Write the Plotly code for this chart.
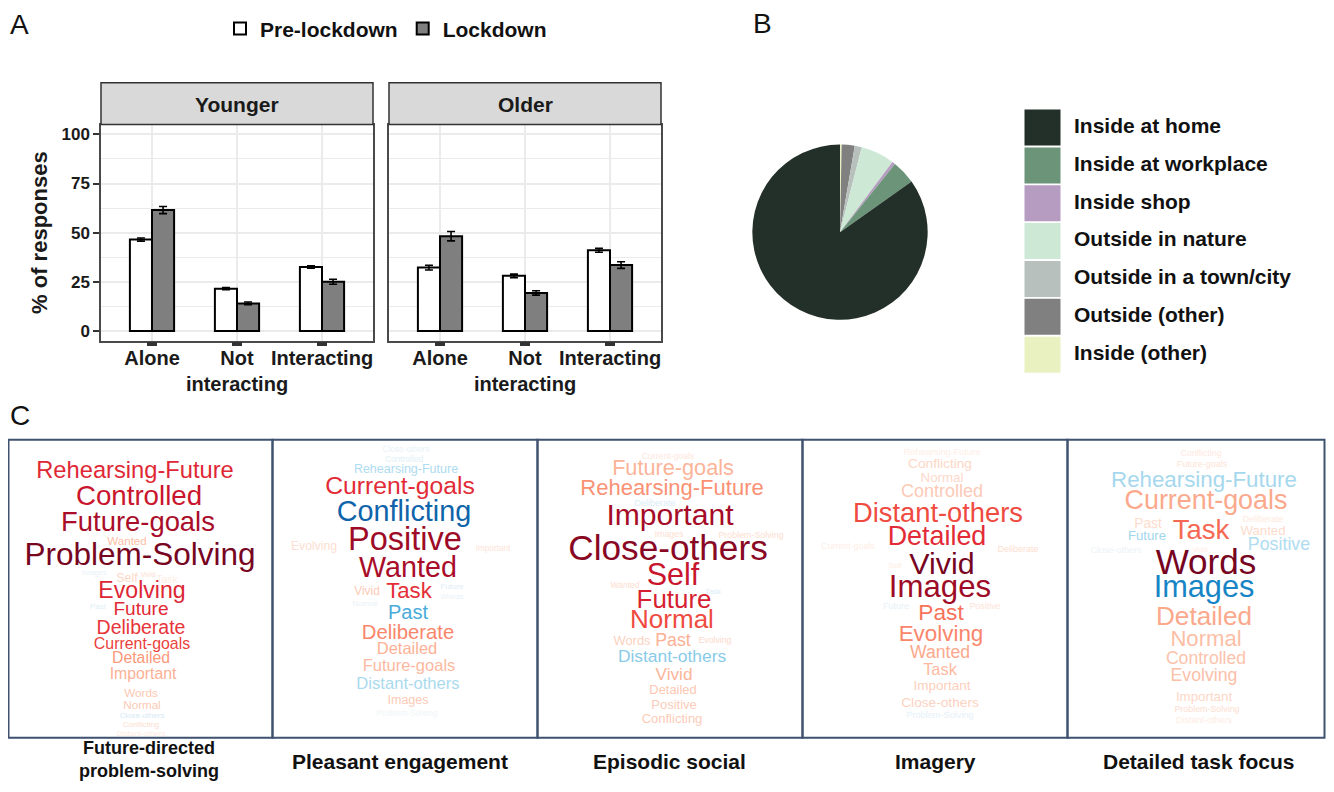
import plotly.graph_objects as go
from plotly.colors import sample_colorscale

# page is 1334x792; the html body adds an 8px margin, so the figure is drawn 8px in
OFF = 8
FW, FH = 1318, 776
FONT = "Liberation Sans, Arial, sans-serif"

# ---------------- Panel A data ----------------
categories = ["Alone", "Not interacting", "Interacting"]
cat_labels = ["Alone", "Not<br>interacting", "Interacting"]
younger_pre = [46.5, 21.5, 32.5]
younger_pre_se = [0.8, 0.5, 0.6]
younger_lock = [61.5, 14.0, 25.0]
younger_lock_se = [1.8, 0.7, 1.3]
older_pre = [32.2, 28.0, 41.0]
older_pre_se = [1.2, 0.9, 1.0]
older_lock = [48.2, 19.3, 33.5]
older_lock_se = [2.4, 1.1, 1.7]
facets = ["Younger", "Older"]
y_ticks = [0, 25, 50, 75, 100]

# ---------------- Panel B data ----------------
locations = ["Inside at home", "Inside at workplace", "Inside shop", "Outside in nature",
             "Outside in a town/city", "Outside (other)", "Inside (other)"]
location_pct = [84.8, 4.4, 0.6, 6.2, 1.3, 2.4, 0.3]
location_colors = ["#233029", "#6b9479", "#b59cc0", "#cde8d5", "#b7c0bd", "#808080", "#e9f1c1"]

# ---------------- Panel C data (words and signed loadings) ----------------
cloud_titles = ["Future-directed<br>problem-solving", "Pleasant engagement", "Episodic social",
                "Imagery", "Detailed task focus"]

words1 = ["Rehearsing-Future", "Controlled", "Future-goals", "Wanted", "Problem-Solving", "Images",
          "Self", "Vivid", "Task", "Evolving", "Past", "Future", "Deliberate", "Current-goals",
          "Detailed", "Important", "Words", "Normal", "Close-others", "Conflicting", "Distant-others"]
load1 = [0.67, 0.76, 0.84, 0.25, 0.98, -0.05, 0.15, 0.12, 0.06, 0.68, -0.08, 0.66, 0.63, 0.60,
         0.38, 0.30, 0.21, 0.20, -0.12, 0.12, 0.06]

words2 = ["Close-others", "Controlled", "Rehearsing-Future", "Current-goals", "Conflicting", "Evolving",
          "Positive", "Important", "Wanted", "Vivid", "Task", "Future", "Words", "Normal", "Past",
          "Deliberate", "Detailed", "Future-goals", "Distant-others", "Images", "Problem-Solving"]
load2 = [-0.05, -0.07, -0.24, 0.66, -0.85, 0.12, 0.87, 0.10, 0.84, 0.20, 0.65, -0.08, -0.05, -0.05,
         -0.47, 0.43, 0.30, 0.27, -0.25, 0.20, -0.03]

words3 = ["Current-goals", "Future-goals", "Rehearsing-Future", "Deliberate", "Important", "Images",
          "Problem-Solving", "Close-others", "Wanted", "Self", "Task", "Future", "Normal", "Words",
          "Past", "Evolving", "Distant-others", "Vivid", "Detailed", "Positive", "Conflicting"]
load3 = [0.08, 0.29, 0.40, -0.10, 0.85, 0.12, 0.12, 0.93, 0.12, 0.76, -0.10, 0.71, 0.57, 0.17,
         0.30, 0.14, -0.32, 0.29, 0.21, 0.19, 0.19]

words4 = ["Rehearsing-Future", "Conflicting", "Normal", "Controlled", "Distant-others", "Detailed",
          "Current-goals", "Deliberate", "Vivid", "Self", "Images", "Future", "Positive", "Past",
          "Evolving", "Wanted", "Task", "Important", "Close-others", "Problem-Solving"]
load4 = [0.05, 0.15, 0.14, 0.20, 0.57, 0.66, 0.05, 0.12, 0.98, 0.06, 0.87, -0.06, 0.10, 0.48,
         0.43, 0.33, 0.27, 0.18, 0.17, -0.06]

words5 = ["Conflicting", "Future-goals", "Rehearsing-Future", "Current-goals", "Past", "Deliberate",
          "Task", "Wanted", "Future", "Positive", "Close-others", "Vivid", "Words", "Images",
          "Detailed", "Normal", "Controlled", "Evolving", "Important", "Problem-Solving", "Distant-others"]
load5 = [0.07, 0.10, -0.26, 0.33, 0.13, 0.07, 0.50, 0.13, -0.27, -0.23, -0.04, 0.06, 0.98, -0.68,
         0.33, 0.25, 0.23, 0.24, 0.15, 0.12, 0.06]

# ---------------- Word-cloud layout (page-pixel centres and widths) ----------------
x1 = [135, 139, 138, 127, 140, 94, 127, 148, 167, 142, 98, 141, 141, 142, 141, 143, 141, 142, 142, 141, 141]
y1 = [471, 497, 523, 541, 556, 572, 578, 574, 580, 591, 606, 610, 629, 644, 659, 675, 694, 706, 716, 725, 734]
w1 = [222, 142, 173, 45, 260, 28, 24, 17, 25, 98, 18, 62, 100, 108, 65, 75, 38, 42, 50, 41, 55]

x2 = [406, 404, 406, 400, 404, 314, 405, 493, 408, 367, 409, 452, 452, 365, 408, 408, 407, 409, 408, 408, 407]
y2 = [449, 459, 469, 487, 513, 546, 541, 548, 569, 591, 592, 586, 596, 603, 613, 633, 649, 666, 684, 701, 714]
w2 = [53, 43, 117, 168, 151, 52, 128, 39, 111, 29, 54, 26, 26, 28, 45, 104, 68, 104, 116, 46, 68]

x3 = [668, 673, 672, 655, 670, 669, 751, 668, 625, 673, 713, 674, 672, 632, 673, 715, 672, 674, 673, 674, 672]
y3 = [456, 468, 488, 503, 516, 534, 535, 550, 585, 577, 591, 601, 621, 641, 641, 640, 657, 675, 690, 705, 719]
w3 = [59, 137, 206, 46, 143, 32, 73, 224, 33, 59, 19, 84, 94, 42, 40, 37, 122, 42, 53, 51, 68]

x4 = [942, 940, 942, 942, 938, 937, 848, 1018, 942, 895, 940, 896, 985, 941, 941, 940, 940, 942, 940, 940]
y4 = [451, 463, 477, 491, 514, 537, 546, 549, 566, 565, 588, 606, 606, 614, 635, 653, 670, 686, 703, 715]
w4 = [86, 72, 48, 92, 191, 111, 60, 46, 74, 15, 115, 29, 35, 51, 95, 68, 40, 64, 87, 76]

x5 = [1201, 1202, 1204, 1206, 1148, 1263, 1201, 1263, 1147, 1279, 1116, 1200, 1206, 1204, 1204, 1206,
      1206, 1204, 1204, 1207, 1204]
y5 = [453, 464, 480, 501, 524, 519, 531, 531, 536, 545, 550, 549, 564, 589, 618, 640, 659, 676, 697, 709, 720]
w5 = [46, 57, 209, 183, 31, 46, 67, 51, 43, 70, 57, 17, 114, 113, 108, 80, 90, 75, 63, 73, 63]

# ---------------- helpers ----------------
ARIAL = {
    'C': 722, 'D': 722, 'E': 667, 'F': 611, 'I': 278, 'N': 722, 'P': 667, 'R': 722, 'S': 667,
    'T': 611, 'V': 667, 'W': 944,
    'a': 556, 'b': 556, 'c': 500, 'd': 556, 'e': 556, 'f': 278, 'g': 556, 'h': 556, 'i': 222,
    'j': 222, 'k': 500, 'l': 222, 'm': 833, 'n': 556, 'o': 556, 'p': 556, 'q': 556, 'r': 333,
    's': 500, 't': 278, 'u': 556, 'v': 500, 'w': 722, 'x': 500, 'y': 500, 'z': 500, '-': 333,
}


def fit_size(word, width_px):
    em = sum(ARIAL.get(ch, 556) for ch in word) / 1000.0
    return round(width_px / em * 0.89, 1)


stops = [
    (-1.00, (10, 70, 140)), (-0.85, (15, 100, 170)), (-0.70, (20, 130, 195)), (-0.55, (40, 155, 210)),
    (-0.40, (100, 185, 225)), (-0.25, (170, 218, 238)), (-0.12, (212, 234, 245)), (-0.04, (236, 243, 248)),
    (0.00, (250, 250, 250)), (0.05, (254, 238, 230)), (0.12, (253, 222, 208)), (0.20, (252, 202, 182)),
    (0.28, (252, 183, 156)), (0.36, (251, 160, 130)), (0.45, (249, 127, 100)), (0.55, (242, 82, 66)),
    (0.65, (228, 45, 55)), (0.75, (205, 22, 45)), (0.85, (165, 12, 40)), (1.00, (112, 4, 30)),
]
word_scale = [[(v + 1) / 2, "rgb(%d,%d,%d)" % c] for v, c in stops]


def loading_colors(loads):
    return sample_colorscale(word_scale, [(v + 1) / 2 for v in loads])


def px_x(p):
    return (p - OFF) / FW


def px_y(p):
    return 1 - (p - OFF) / FH


fig = go.Figure()

# ---------------- Panel A: bars ----------------
series = [
    (younger_pre, younger_pre_se, younger_lock, younger_lock_se, "x", "y", True),
    (older_pre, older_pre_se, older_lock, older_lock_se, "x2", "y2", False),
]
for pre, pre_se, lock, lock_se, xa, ya, show in series:
    fig.add_trace(go.Bar(
        x=categories, y=pre, name="Pre-lockdown", legendgroup="pre", showlegend=show,
        marker=dict(color="white", line=dict(color="black", width=2)),
        error_y=dict(type="data", array=pre_se, color="black", thickness=1.6, width=4),
        xaxis=xa, yaxis=ya, hoverinfo="skip"))
    fig.add_trace(go.Bar(
        x=categories, y=lock, name="Lockdown", legendgroup="lock", showlegend=show,
        marker=dict(color="#7f7f7f", line=dict(color="black", width=2)),
        error_y=dict(type="data", array=lock_se, color="black", thickness=1.6, width=4),
        xaxis=xa, yaxis=ya, hoverinfo="skip"))

grid_c = "#ebebeb"
xax_common = dict(
    type="category", categoryorder="array", categoryarray=categories,
    tickvals=categories, ticktext=cat_labels, range=[-0.6, 2.6], tickangle=0,
    showgrid=True, gridcolor=grid_c, gridwidth=1.5,
    showline=True, mirror=True, linecolor="#4a4a4a", linewidth=1.5,
    ticks="outside", ticklen=4, tickwidth=10, tickcolor="#333333", ticklabelstandoff=-5,
    tickfont=dict(family=FONT, size=20, color="#1a1a1a", weight="bold"),
    fixedrange=True, automargin=False,
)
yax_common = dict(
    range=[-5, 105], tickvals=y_ticks, showgrid=True, gridcolor=grid_c, gridwidth=1.5,
    minor=dict(tickvals=[12.5, 37.5, 62.5, 87.5], showgrid=True, gridcolor=grid_c, gridwidth=0.8),
    zeroline=False, showline=True, mirror=True, linecolor="#4a4a4a", linewidth=1.5,
    fixedrange=True, automargin=False,
)
dom_y = [px_y(339), px_y(122)]
fig.update_layout(
    xaxis=dict(domain=[px_x(101), px_x(373)], anchor="y", **xax_common),
    xaxis2=dict(domain=[px_x(389), px_x(661)], anchor="y2", **xax_common),
    yaxis=dict(domain=dom_y, anchor="x", ticks="outside", ticklen=6, tickwidth=2, tickcolor="#333333",
               tickfont=dict(family=FONT, size=17, color="#1a1a1a", weight="bold"),
               title=dict(text="% of responses", standoff=8,
                          font=dict(family=FONT, size=22, color="#1a1a1a", weight="bold")),
               **yax_common),
    yaxis2=dict(domain=dom_y, anchor="x2", showticklabels=False, ticks="", **yax_common),
    bargap=0.48, bargroupgap=0, barmode="group",
)

# ---------------- Panel B: pie (clockwise from 12 o'clock, last category first) ----------------
fig.add_trace(go.Pie(
    labels=locations[::-1], values=location_pct[::-1], sort=False, direction="clockwise", rotation=0,
    marker=dict(colors=location_colors[::-1], line=dict(width=0)), textinfo="none",
    hoverinfo="label+percent",
    domain=dict(x=[px_x(752), px_x(928)], y=[px_y(318), px_y(142)]), showlegend=False,
))

# ---------------- overlay axes in page pixels for panel B legend and panel C ----------------
fig.update_layout(
    xaxis3=dict(domain=[0, 1], range=[OFF, OFF + FW], visible=False, fixedrange=True, anchor="y3"),
    yaxis3=dict(domain=[0, 1], range=[OFF + FH, OFF], visible=False, fixedrange=True, anchor="x3"),
)

leg_y = [125 + 38 * i for i in range(len(locations))]
fig.add_trace(go.Scatter(
    x=[1042.5] * len(locations), y=leg_y, mode="markers", xaxis="x3", yaxis="y3",
    marker=dict(symbol="square", size=36, color=location_colors, line=dict(width=0)),
    showlegend=False, hoverinfo="skip"))
fig.add_trace(go.Scatter(
    x=[1074] * len(locations), y=leg_y, mode="text", text=locations, textposition="middle right",
    textfont=dict(family=FONT, size=21, color="#111111", weight="bold"), xaxis="x3", yaxis="y3",
    showlegend=False, hoverinfo="skip", cliponaxis=False))

clouds = [(words1, load1, x1, y1, w1), (words2, load2, x2, y2, w2), (words3, load3, x3, y3, w3),
          (words4, load4, x4, y4, w4), (words5, load5, x5, y5, w5)]
box_edges = [8.5, 272.5, 537.5, 802.5, 1067.5, 1324.5]
for words, loads, xs, ys, ws in clouds:
    fig.add_trace(go.Scatter(
        x=xs, y=ys, mode="text", text=words, textposition="middle center",
        textfont=dict(family=FONT, size=[fit_size(wd, wp) for wd, wp in zip(words, ws)],
                      color=loading_colors(loads)),
        xaxis="x3", yaxis="y3", showlegend=False, hoverinfo="skip", cliponaxis=False))

shapes = []
for i in range(5):
    shapes.append(dict(type="rect", xref="x3", yref="y3", x0=box_edges[i], x1=box_edges[i + 1],
                       y0=438.5, y1=737.5, line=dict(color="#3f5270", width=2), fillcolor="rgba(0,0,0,0)"))
for x0, x1_ in [(101, 373), (389, 661)]:
    shapes.append(dict(type="rect", xref="x3", yref="y3", x0=x0, x1=x1_, y0=80, y1=122,
                       line=dict(color="#333333", width=1.5), fillcolor="#d9d9d9", layer="above"))

annotations = []
for name, (x0, x1_) in zip(facets, [(101, 373), (389, 661)]):
    annotations.append(dict(xref="x3", yref="y3", x=(x0 + x1_) / 2, y=102, text=name, showarrow=False,
                            font=dict(family=FONT, size=21, color="#1a1a1a", weight="bold")))
for letter, lx, ly in [("A", 8, 22), ("B", 751, 21), ("C", 8, 414)]:
    annotations.append(dict(xref="x3", yref="y3", x=lx, y=ly, text=letter, showarrow=False,
                            xanchor="left", yanchor="middle",
                            font=dict(family=FONT, size=28, color="#111111")))
cap_x = [149, 400, 669, 935, 1198]
cap_size = [18, 21, 21, 21, 21]
for t, cx, cs in zip(cloud_titles, cap_x, cap_size):
    annotations.append(dict(xref="x3", yref="y3", x=cx, y=759 if "<br>" in t else 761, text=t,
                            showarrow=False, xanchor="center", yanchor="middle",
                            font=dict(family=FONT, size=cs, color="#111111", weight="bold")))

fig.update_layout(
    width=FW, height=FH, margin=dict(l=0, r=0, t=0, b=0),
    paper_bgcolor="white", plot_bgcolor="rgba(0,0,0,0)",
    shapes=shapes, annotations=annotations,
    showlegend=True,
    legend=dict(orientation="h", x=px_x(220), y=px_y(26), xanchor="left", yanchor="middle",
                font=dict(family=FONT, size=21, color="#111111", weight="bold"),
                bgcolor="rgba(0,0,0,0)", itemwidth=30, traceorder="normal"),
    font=dict(family=FONT),
)

fig.write_html("out.html")
